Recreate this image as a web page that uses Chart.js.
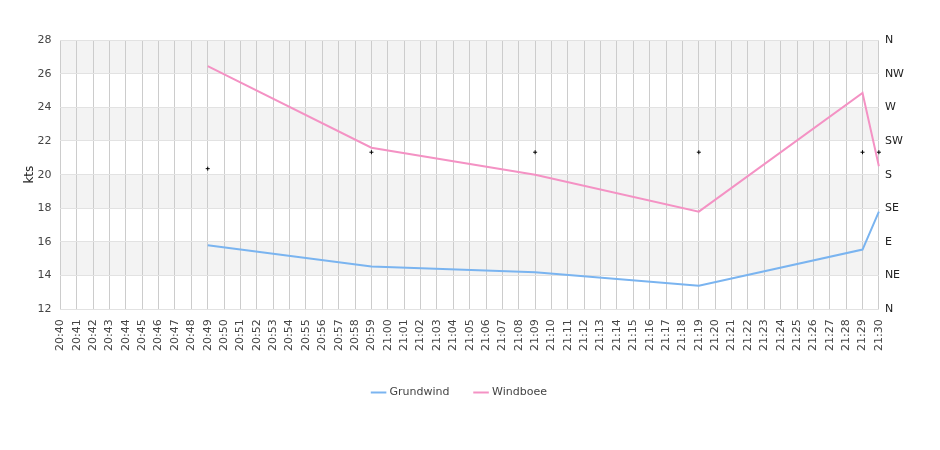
<!DOCTYPE html>
<html lang="de">
<head>
<meta charset="UTF-8">
<script src="https://cdn.jsdelivr.net/npm/chart.js@4/dist/chart.umd.min.js"></script>
<style>
  html, body { margin: 0; padding: 0; background: #fff; }
  #wrap { width: 940px; height: 450px; }
</style>
</head>
<body>
<div id="wrap"><canvas id="myChart"></canvas></div>
<script>
// time labels 20:40 .. 21:30
var timeLabels = ["20:40","20:41","20:42","20:43","20:44","20:45","20:46","20:47","20:48","20:49",
    "20:50","20:51","20:52","20:53","20:54","20:55","20:56","20:57","20:58","20:59",
    "21:00","21:01","21:02","21:03","21:04","21:05","21:06","21:07","21:08","21:09",
    "21:10","21:11","21:12","21:13","21:14","21:15","21:16","21:17","21:18","21:19",
    "21:20","21:21","21:22","21:23","21:24","21:25","21:26","21:27","21:28","21:29","21:30"];

// measured points only
var sampleTimes = ["20:49","20:59","21:09","21:19","21:29","21:30"];
var grundwind   = [15.8, 14.55, 14.2, 13.4, 15.55, 17.8];
var windboee    = [26.45, 21.6, 20.0, 17.8, 24.85, 20.5];
var windDir     = [188, 210, 210, 210, 210, 210];

var dirLabels = ["N","NE","E","SE","S","SW","W","NW","N"];

function toSeries(vals) {
    var out = timeLabels.map(function () { return null; });
    sampleTimes.forEach(function (t, i) { out[timeLabels.indexOf(t)] = vals[i]; });
    return out;
}

// alternating grey bands behind the plot
var bands = {
    id: 'bands',
    beforeDraw: function (chart) {
        var ctx = chart.ctx, a = chart.chartArea, y = chart.scales.y;
        ctx.save();
        ctx.fillStyle = '#f3f3f3';
        for (var v = 14; v < 28; v += 4) {
            var top = y.getPixelForValue(v + 2), bot = y.getPixelForValue(v);
            ctx.fillRect(a.left, top, a.right - a.left, bot - top);
        }
        ctx.restore();
    }
};

Chart.defaults.font.family = "'DejaVu Sans', sans-serif";
Chart.defaults.font.size = 11;
Chart.defaults.color = '#444';

new Chart(document.getElementById('myChart'), {
    type: 'line',
    data: {
        labels: timeLabels,
        datasets: [
            {
                label: 'Grundwind',
                data: toSeries(grundwind),
                borderColor: '#7ab4f0',
                backgroundColor: '#7ab4f0',
                borderWidth: 2,
                pointRadius: 0,
                spanGaps: true,
                yAxisID: 'y'
            },
            {
                label: 'Windboee',
                data: toSeries(windboee),
                borderColor: '#f492c4',
                backgroundColor: '#f492c4',
                borderWidth: 2,
                pointRadius: 0,
                spanGaps: true,
                yAxisID: 'y'
            },
            {
                label: 'dir',
                data: toSeries(windDir),
                showLine: false,
                pointStyle: 'cross',
                pointRadius: 2,
                borderColor: '#000',
                borderWidth: 1,
                yAxisID: 'y2'
            }
        ]
    },
    options: {
        responsive: true,
        maintainAspectRatio: false,
        animation: false,
        layout: { padding: { left: 10, right: 30, top: 40, bottom: 42 } },
        plugins: {
            legend: {
                position: 'bottom',
                labels: {
                    usePointStyle: true,
                    pointStyle: 'line',
                    boxWidth: 12,
                    padding: 26,
                    filter: function (item) { return item.text !== 'dir'; }
                }
            },
            tooltip: { enabled: false }
        },
        scales: {
            x: {
                grid: { color: '#cccccc', drawTicks: false },
                border: { display: false },
                ticks: { maxRotation: 90, minRotation: 90, autoSkip: false, padding: 10 }
            },
            y: {
                position: 'left',
                min: 12, max: 28,
                ticks: { stepSize: 2, padding: 9 },
                grid: { color: '#e2e2e2', drawTicks: false },
                border: { display: false },
                title: { display: true, text: 'kts', color: '#222', font: { size: 12 }, padding: { top: 13, bottom: -9 } }
            },
            y2: {
                position: 'right',
                min: 0, max: 360,
                ticks: {
                    stepSize: 45, padding: 6, color: '#222',
                    callback: function (v) { return dirLabels[Math.round(v / 45)]; }
                },
                grid: { display: false, drawTicks: false },
                border: { display: false }
            }
        }
    },
    plugins: [bands]
});
</script>
</body>
</html>
